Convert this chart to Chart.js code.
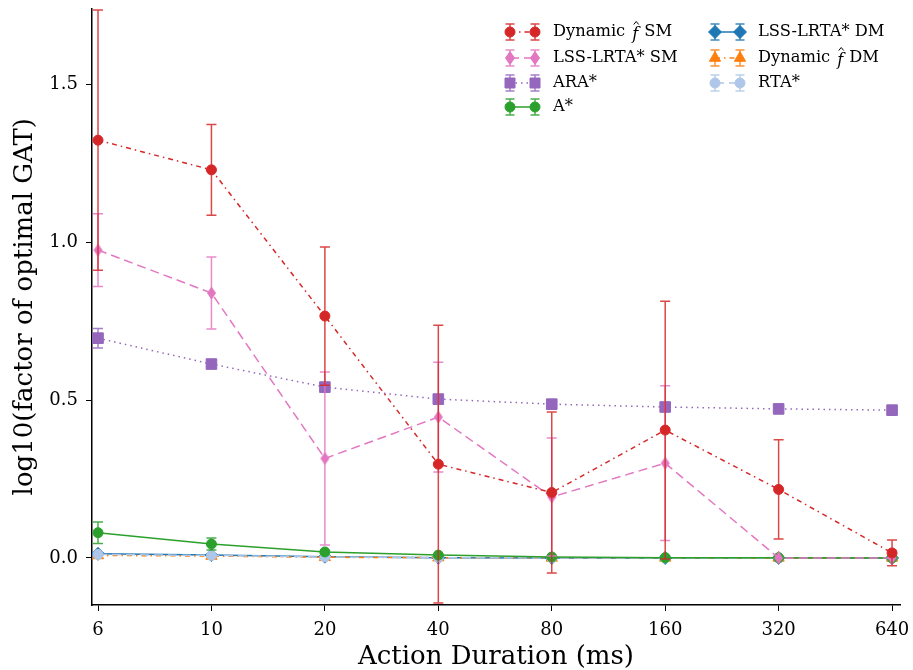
<!DOCTYPE html>
<html><head><meta charset="utf-8">
<script src="https://cdn.jsdelivr.net/npm/chart.js@4/dist/chart.umd.min.js"></script>
<style>html,body{margin:0;padding:0;background:#fff}canvas{display:block}</style>
</head><body>
<canvas id="c" width="913" height="670"></canvas>
<script>
// ---- data ----
const durations = ['6', '10', '20', '40', '80', '160', '320', '640'];
const dynSM     = [1.323, 1.229, 0.766, 0.297, 0.207, 0.405, 0.217, 0.016];
const dynSMErr  = [0.412, 0.144, 0.219, 0.440, 0.255, 0.408, 0.157, 0.041];
const lssSM     = [0.975, 0.839, 0.315, 0.446, 0.193, 0.300, 0.0, 0.0];
const lssSMErr  = [0.115, 0.114, 0.274, 0.174, 0.187, 0.245, 0.0, 0.0];
const araStar   = [0.696, 0.614, 0.541, 0.503, 0.487, 0.478, 0.472, 0.468];
const araErr    = [0.031, 0.0, 0.0, 0.0, 0.0, 0.0, 0.0, 0.0];
const aStar     = [0.080, 0.044, 0.019, 0.009, 0.003, 0.001, 0.0005, 0.0];
const aStarErr  = [0.034, 0.019, 0.004, 0.002, 0.001, 0.0, 0.0, 0.0];
const lssDM     = [0.013, 0.009, 0.004, 0.001, 0.0, 0.0, 0.0, 0.0];
const dynDM     = [0.008, 0.006, 0.002, 0.001, 0.0, 0.0, 0.0, 0.0];
const rtaStar   = [0.011, 0.008, 0.003, 0.001, 0.0, 0.0, 0.0, 0.0];
const yTicks    = [0.0, 0.5, 1.0, 1.5];

const FONT = 'DejaVu Serif';
Chart.defaults.font.family = FONT;
Chart.defaults.color = '#000';

function thinDiamond(color) {
  const c = document.createElement('canvas'); c.width = 11; c.height = 14;
  const g = c.getContext('2d'); g.fillStyle = color;
  g.beginPath(); g.moveTo(5.5, 0.5); g.lineTo(10, 7); g.lineTo(5.5, 13.5); g.lineTo(1, 7); g.closePath(); g.fill();
  return c;
}

const pts = arr => arr.map((v, i) => ({x: i, y: v}));

const series = [
  {label: 'Dynamic f SM', hat: true, data: dynSM, err: dynSMErr, color: '#d62728', dash: [5, 4, 1.5, 4], marker: 'circle'},
  {label: 'LSS-LRTA* SM', data: lssSM, err: lssSMErr, color: '#e377c2', dash: [9, 5], marker: 'thin'},
  {label: 'ARA*', data: araStar, err: araErr, color: '#9467bd', dash: [1.5, 4], marker: 'square'},
  {label: 'A*', data: aStar, err: aStarErr, color: '#2ca02c', dash: [], marker: 'circle'},
  {label: 'LSS-LRTA* DM', data: lssDM, err: null, color: '#1f77b4', dash: [], marker: 'diamond'},
  {label: 'Dynamic f DM', hat: true, data: dynDM, err: null, color: '#ff7f0e', dash: [5, 4, 1.5, 4], marker: 'triangle'},
  {label: 'RTA*', data: rtaStar, err: null, color: '#aec7e8', dash: [9, 5], marker: 'circle'},
];

function styleFor(s) {
  switch (s.marker) {
    case 'circle': return {pointStyle: 'circle', radius: 5};
    case 'square': return {pointStyle: 'rect', radius: 7.5};
    case 'thin': return {pointStyle: thinDiamond(s.color), radius: 6};
    case 'diamond': return {pointStyle: 'rectRot', radius: 6.5};
    case 'triangle': return {pointStyle: 'triangle', radius: 6.5};
  }
}

const drawOrder = [0, 1, 2, 3, 6, 5, 4];
const datasets = series.map((s, i) => {
  const st = styleFor(s);
  return {
    label: s.label,
    data: pts(s.data),
    errors: s.err,
    errColor: s.color,
    borderColor: s.color,
    backgroundColor: s.color,
    borderWidth: 1.5,
    borderDash: s.dash,
    pointStyle: st.pointStyle,
    pointRadius: st.radius,
    pointBorderWidth: 1,
    pointBorderColor: s.color,
    pointBackgroundColor: s.color,
    tension: 0,
    fill: false,
    order: drawOrder.indexOf(i)
  };
});

const errPlugin = {
  id: 'errbars',
  beforeDatasetDraw(chart, args) {
    const ds = chart.data.datasets[args.index];
    if (!ds.errors) return;
    const {ctx, chartArea, scales: {x, y}} = chart;
    ctx.save();
    ctx.beginPath();
    ctx.rect(chartArea.left, chartArea.top, chartArea.right - chartArea.left, chartArea.bottom - chartArea.top);
    ctx.clip();
    ctx.strokeStyle = ds.errColor;
    ctx.globalAlpha = 0.85;
    ctx.lineWidth = 1.5;
    ds.data.forEach((p, i) => {
      const e = ds.errors[i];
      if (!e) return;
      const px = x.getPixelForValue(p.x);
      const y1 = y.getPixelForValue(p.y + e), y2 = y.getPixelForValue(p.y - e);
      ctx.beginPath();
      ctx.moveTo(px, y1); ctx.lineTo(px, y2);
      ctx.moveTo(px - 5, y1); ctx.lineTo(px + 5, y1);
      ctx.moveTo(px - 5, y2); ctx.lineTo(px + 5, y2);
      ctx.stroke();
    });
    ctx.restore();
  }
};

function drawMarker(ctx, kind, x, y, color) {
  ctx.save();
  ctx.fillStyle = color; ctx.strokeStyle = color; ctx.lineWidth = 1; ctx.setLineDash([]);
  ctx.beginPath();
  if (kind === 'circle') { ctx.arc(x, y, 5, 0, Math.PI * 2); }
  else if (kind === 'square') { ctx.rect(x - 5, y - 5, 10, 10); }
  else if (kind === 'thin') { ctx.moveTo(x, y - 6.5); ctx.lineTo(x + 4.5, y); ctx.lineTo(x, y + 6.5); ctx.lineTo(x - 4.5, y); ctx.closePath(); }
  else if (kind === 'diamond') { ctx.moveTo(x, y - 6.5); ctx.lineTo(x + 6.5, y); ctx.lineTo(x, y + 6.5); ctx.lineTo(x - 6.5, y); ctx.closePath(); }
  else if (kind === 'triangle') { ctx.moveTo(x, y - 6.5); ctx.lineTo(x + 5.6, y + 3.3); ctx.lineTo(x - 5.6, y + 3.3); ctx.closePath(); }
  ctx.fill(); ctx.stroke();
  ctx.restore();
}

const legendPlugin = {
  id: 'customLegend',
  afterDraw(chart) {
    const ctx = chart.ctx;
    const cols = [{mx: [510, 535], tx: 553}, {mx: [715, 740], tx: 758}];
    const rows = [32, 58, 83, 107];
    const fs = 16.3;
    series.forEach((s, i) => {
      const col = i < 4 ? cols[0] : cols[1];
      const y = rows[i < 4 ? i : i - 4];
      const [x1, x2] = col.mx;
      ctx.save();
      ctx.strokeStyle = s.color; ctx.lineWidth = 1.5; ctx.setLineDash(s.dash);
      ctx.beginPath(); ctx.moveTo(x1, y); ctx.lineTo(x2, y); ctx.stroke();
      ctx.setLineDash([]);
      ctx.globalAlpha = 0.85;
      ctx.beginPath();
      [x1, x2].forEach(x => {
        ctx.moveTo(x, y - 8); ctx.lineTo(x, y + 8);
        ctx.moveTo(x - 4.5, y - 8); ctx.lineTo(x + 4.5, y - 8);
        ctx.moveTo(x - 4.5, y + 8); ctx.lineTo(x + 4.5, y + 8);
      });
      ctx.stroke();
      ctx.restore();
      drawMarker(ctx, s.marker, x1, y, s.color);
      drawMarker(ctx, s.marker, x2, y, s.color);
      ctx.save();
      ctx.fillStyle = '#000'; ctx.textBaseline = 'middle'; ctx.textAlign = 'left';
      const reg = fs + 'px "' + FONT + '"';
      ctx.font = reg;
      if (s.hat) {
        const parts = s.label.split(' f ');
        let x = col.tx;
        ctx.fillText(parts[0], x, y);
        x += ctx.measureText(parts[0]).width + 7;
        ctx.font = 'italic ' + fs + 'px "' + FONT + '"';
        ctx.fillText('f', x, y + 2.5);
        const fw = ctx.measureText('f').width;
        ctx.strokeStyle = '#000'; ctx.lineWidth = 1;
        ctx.beginPath();
        const hx = x + fw / 2 + 1;
        ctx.moveTo(hx - 2.5, y - 7.5); ctx.lineTo(hx, y - 10.5); ctx.lineTo(hx + 2.5, y - 7.5);
        ctx.stroke();
        x += fw + 6;
        ctx.font = reg;
        ctx.fillText(parts[1], x, y);
      } else {
        ctx.fillText(s.label, col.tx, y);
      }
      ctx.restore();
    });
  }
};

new Chart(document.getElementById('c'), {
  type: 'line',
  data: {datasets},
  plugins: [errPlugin, legendPlugin],
  options: {
    responsive: false,
    animation: false,
    devicePixelRatio: 1,
    layout: {padding: {top: 8, right: 13, left: 0, bottom: 0}},
    plugins: {legend: {display: false}, tooltip: {enabled: false}},
    scales: {
      x: {
        type: 'linear', min: -0.053, max: 7.07,
        afterBuildTicks: sc => { sc.ticks = durations.map((d, i) => ({value: i})); },
        afterFit: sc => { sc.height = 65; sc.paddingLeft = 0; sc.paddingRight = 0; },
        ticks: {callback: v => durations[v], font: {size: 18, family: FONT}, color: '#000', padding: 9, maxRotation: 0, autoSkip: false},
        grid: {drawOnChartArea: false, drawTicks: true, tickLength: 6, color: '#000', tickWidth: 1},
        border: {display: true, color: '#000', width: 1.5},
        title: {display: true, text: 'Action Duration (ms)', font: {size: 26, family: FONT, lineHeight: 1}, color: '#000', padding: {top: 0, bottom: 0}}
      },
      y: {
        type: 'linear', min: -0.149, max: 1.74,
        afterBuildTicks: sc => { sc.ticks = yTicks.map(v => ({value: v})); },
        afterFit: sc => { sc.width = 92; sc.paddingTop = 0; sc.paddingBottom = 0; },
        ticks: {callback: v => v.toFixed(1), font: {size: 18, family: FONT}, color: '#000', padding: 8},
        grid: {drawOnChartArea: false, drawTicks: true, tickLength: 6, color: '#000', tickWidth: 1},
        border: {display: true, color: '#000', width: 1.5},
        title: {display: true, text: 'log10(factor of optimal GAT)', font: {size: 26, family: FONT, lineHeight: 1}, color: '#000', padding: {top: 12, bottom: 0}}
      }
    }
  }
});
</script>
</body></html>
